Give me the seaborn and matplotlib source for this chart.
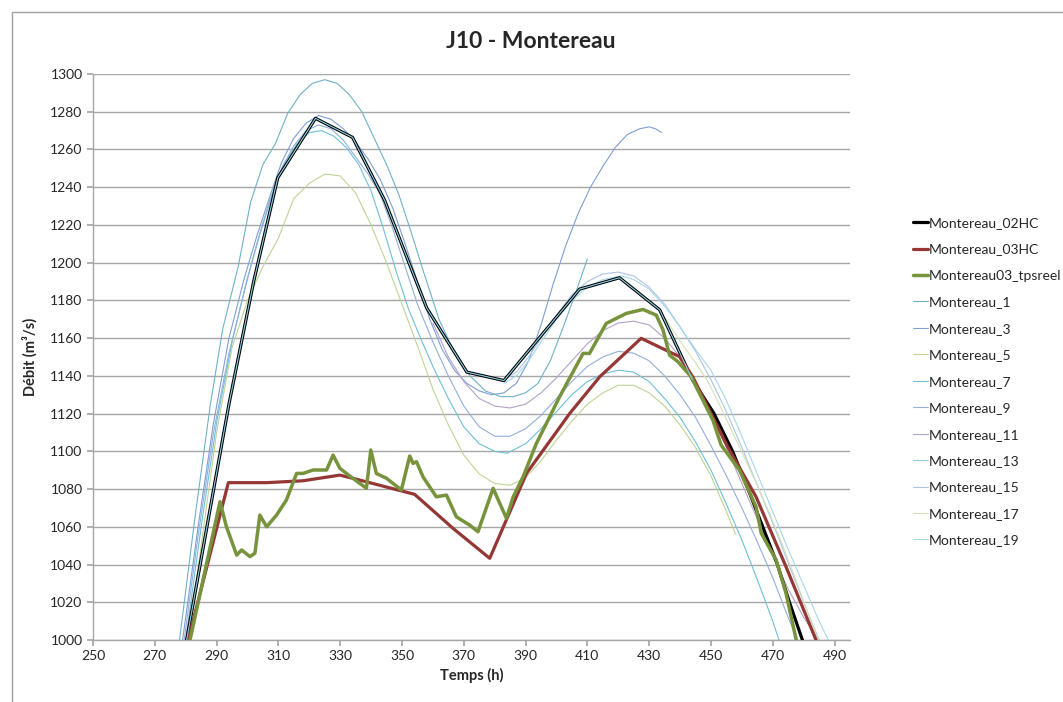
import matplotlib
matplotlib.use("Agg")
import matplotlib.pyplot as plt
from matplotlib.patches import Rectangle
import seaborn as sns
import pandas as pd

# observed / reference series
hc02_t = [280.3, 294, 302, 309.8, 322, 334, 344.4, 352, 358, 371, 383, 407.5, 420.4, 433.4, 444, 451, 457, 462, 467, 471.5, 475.4, 479.6]
hc02_q = [1000, 1125, 1190, 1245, 1276.5, 1266.4, 1233, 1201, 1176, 1142, 1137.5, 1186, 1192, 1175, 1138, 1120, 1100, 1080, 1059, 1040, 1020, 1000]

hc03_t = [280.8, 293.8, 306.2, 318, 329.9, 335.3, 354.1, 366.5, 378.4, 390.3, 404.3, 414, 427.4, 439.8, 444.1, 455.4, 464.6, 474.3, 484]
hc03_q = [1000, 1083.4, 1083.4, 1084.4, 1087.4, 1085.2, 1077.2, 1059.2, 1043.3, 1088.3, 1120.1, 1139.5, 1159.9, 1150.2, 1139.5, 1102.4, 1075.9, 1038.8, 1000]

tps_t = [281.4, 291.1, 293.2, 296.5, 298.1, 300.8, 302.4, 304, 306.2, 309.4, 312.6, 315.9, 318, 321.2, 325.6, 327.7,
         329.9, 332, 338.5, 339.9, 341.7, 345, 349.8, 352.5, 353.6, 354.7, 356.8, 361.1, 364.4, 367.6, 371.9, 374.6,
         379.5, 383.8, 386, 389.2, 393.5, 397.3, 401, 408.6, 410.7, 416.1, 422.6, 428, 432.3, 434.5, 436.6, 439.3,
         443.6, 450.6, 453.3, 459.2, 464.6, 466.3, 471.1, 474.3, 477.6]
tps_q = [1000, 1073.3, 1060, 1045, 1047.7, 1044.2, 1046, 1066.2, 1060, 1066.2, 1074.2, 1088.3, 1088.3, 1090.1, 1090.1, 1098,
         1091, 1088.3, 1080.4, 1100.7, 1088.3, 1085.7, 1079.5, 1097.5, 1093.6, 1094.5, 1086.5, 1075.9, 1076.8, 1065.3, 1060.9, 1057.4,
         1080.4, 1064.5, 1075.9, 1086.5, 1104.2, 1116.6, 1128.9, 1151.9, 1151.9, 1167.8, 1173.1, 1175.2, 1172.2, 1164.3, 1151, 1147.5,
         1139.5, 1116.6, 1103.3, 1090.1, 1070.6, 1056.5, 1042.4, 1024.7, 1000]

# ensemble members
m1_t = [278, 283, 288, 292, 297, 301, 305, 309, 313, 317, 321, 325, 329, 333, 337, 341, 345, 349, 353, 357, 362, 367, 372, 377, 382, 386, 390, 394, 398, 402, 406, 410]
m1_q = [1000, 1065, 1125, 1165, 1198, 1232, 1252, 1263, 1279, 1289, 1295, 1297, 1295, 1289, 1280, 1266, 1252, 1236, 1216, 1195, 1170, 1152, 1140, 1132, 1129, 1129, 1131, 1136, 1148, 1165, 1183, 1202]

m3_t = [279, 284, 289, 294, 299, 303, 307, 311, 315, 319, 323, 327, 331, 335, 339, 343, 347, 351, 355, 359, 363, 367, 371, 375, 379, 383, 387, 391, 395, 399, 403, 407, 411, 415, 419, 423, 427, 430, 432, 434]
m3_q = [1000, 1060, 1115, 1160, 1192, 1214, 1234, 1253, 1266, 1274, 1278, 1276, 1271, 1264, 1255, 1244, 1229, 1210, 1190, 1170, 1154, 1143, 1136, 1132, 1130, 1131, 1136, 1148, 1167, 1189, 1209, 1226, 1240, 1251, 1261, 1268, 1271, 1272, 1271, 1269]

m5_t = [281, 285, 290, 295, 300, 305, 310, 315, 320, 325, 330, 335, 340, 345, 350, 355, 360, 365, 370, 375, 380, 385, 390, 395, 400, 405, 410, 415, 420, 425, 430, 435, 440, 445, 450, 455, 458]
m5_q = [1000, 1050, 1110, 1155, 1180, 1198, 1213, 1234, 1242, 1247, 1246, 1237, 1220, 1200, 1178, 1156, 1133, 1114, 1098, 1088, 1083, 1082, 1086, 1095, 1106, 1116, 1125, 1131, 1135, 1135, 1131, 1124, 1114, 1102, 1087, 1068, 1056]

m7_t = [280, 285, 290, 295, 300, 304, 308, 312, 316, 320, 324, 328, 332, 336, 340, 344, 348, 352, 356, 360, 365, 370, 375, 380, 384, 390, 395, 400, 405, 410, 415, 420, 425, 430, 435, 440, 445, 450, 455, 460, 465, 470, 472]
m7_q = [1000, 1060, 1115, 1158, 1192, 1215, 1236, 1253, 1263, 1269, 1270, 1267, 1261, 1252, 1238, 1218, 1196, 1176, 1160, 1145, 1128, 1113, 1104, 1100, 1099, 1104, 1112, 1121, 1130, 1137, 1141, 1143, 1142, 1137, 1128, 1118, 1105, 1090, 1072, 1053, 1032, 1010, 1000]

m9_t = [279.5, 284, 289, 294, 299, 303, 307, 311, 315, 319, 323, 327, 331, 335, 339, 343, 347, 351, 355, 360, 365, 370, 375, 380, 385, 390, 395, 400, 405, 410, 415, 420, 425, 430, 435, 440, 445, 450, 455, 460, 465, 470, 475, 478]
m9_q = [1000, 1055, 1110, 1152, 1185, 1210, 1232, 1250, 1262, 1270, 1273, 1271, 1265, 1256, 1247, 1236, 1218, 1198, 1178, 1158, 1140, 1124, 1113, 1108, 1108, 1112, 1119, 1128, 1137, 1145, 1150, 1153, 1152, 1148, 1140, 1130, 1118, 1103, 1087, 1070, 1052, 1033, 1012, 1000]

m11_t = [360, 365, 370, 375, 380, 385, 390, 395, 400, 405, 410, 415, 420, 425, 430, 435, 440, 445, 450, 455, 460, 465, 470, 475, 480, 485]
m11_q = [1168, 1150, 1137, 1128, 1124, 1123, 1125, 1131, 1139, 1148, 1157, 1164, 1168, 1169, 1167, 1160, 1150, 1136, 1120, 1102, 1083, 1064, 1045, 1027, 1012, 1000]

m13_t = [280.3, 294, 302, 309.8, 322, 334, 344.4, 352, 358, 371, 383, 407.5, 420.4, 433.4, 444]
m13_q = [1000, 1125, 1190, 1245, 1276.5, 1266.4, 1233, 1201, 1176, 1142, 1137.5, 1186, 1192, 1175, 1138]

m15_t = [383, 387, 391, 395, 400, 405, 410, 415, 420, 425, 430, 435, 440, 445, 450, 455, 460, 465, 470, 475, 480, 485]
m15_q = [1138, 1142, 1150, 1160, 1172, 1183, 1190, 1194, 1195, 1193, 1187, 1178, 1166, 1153, 1138, 1121, 1102, 1082, 1062, 1041, 1020, 1000]

m17_t = [433.4, 437, 441, 445, 449, 453, 457, 461, 465, 469, 473, 477, 481, 484, 485]
m17_q = [1175, 1166, 1156, 1147, 1137, 1124, 1110, 1096, 1082, 1067, 1051, 1034, 1016, 1003, 1000]

m19_t = [383, 387, 391, 395, 400, 405, 410, 415, 421, 425, 430, 435, 440, 445, 450, 455, 460, 465, 470, 475, 480, 485, 488]
m19_q = [1136, 1140, 1148, 1158, 1170, 1180, 1187, 1191, 1193, 1191, 1186, 1177, 1166, 1154, 1143, 1127, 1108, 1088, 1068, 1048, 1029, 1010, 1000]

series = [
    ("Montereau_02HC", hc02_t, hc02_q, "#000000", 2.3),
    ("Montereau_03HC", hc03_t, hc03_q, "#953735", 2.3),
    ("Montereau03_tpsreel", tps_t, tps_q, "#77933c", 2.5),
    ("Montereau_1", m1_t, m1_q, "#6fb1c8", 0.8),
    ("Montereau_3", m3_t, m3_q, "#7f9fd3", 0.8),
    ("Montereau_5", m5_t, m5_q, "#bfd494", 0.8),
    ("Montereau_7", m7_t, m7_q, "#6fc0d6", 0.8),
    ("Montereau_9", m9_t, m9_q, "#93afda", 0.8),
    ("Montereau_11", m11_t, m11_q, "#b3a2c7", 0.8),
    ("Montereau_13", m13_t, m13_q, "#8dcde0", 0.8),
    ("Montereau_15", m15_t, m15_q, "#adc2e6", 0.8),
    ("Montereau_17", m17_t, m17_q, "#d3e2b6", 0.8),
    ("Montereau_19", m19_t, m19_q, "#a6d8e8", 0.8),
]

sns.set_theme(style="white")
plt.rcParams['font.family'] = ['Lato', 'DejaVu Sans']

fig = plt.figure(figsize=(10.63, 7.02), dpi=100)
ax = fig.add_axes([93/1063, 1 - 640/702, (850 - 93)/1063, (640 - 74)/702])

for name, t, q, col, lw in series:
    df = pd.DataFrame({"t": t, "q": q})
    z = 2
    if name == "Montereau_13":
        z = 4  # drawn inside the black line
    elif lw > 1:
        z = 3
    sns.lineplot(data=df, x="t", y="q", ax=ax, color=col, linewidth=lw, label=name,
                 estimator=None, sort=False, zorder=z)

ax.set_xlim(250, 495)
ax.set_ylim(1000, 1300)
ax.set_xticks(range(250, 491, 20))
ax.set_yticks(range(1000, 1301, 20))
ax.yaxis.grid(True, color="#a6a6a6", linewidth=1.0)
ax.xaxis.grid(False)
for s in ["top", "right"]:
    ax.spines[s].set_visible(False)
for s in ["left", "bottom"]:
    ax.spines[s].set_color("#a6a6a6")
    ax.spines[s].set_linewidth(1.0)
ax.tick_params(axis="both", which="major", length=4, color="#a6a6a6", labelsize=10, direction="out")
ax.tick_params(axis="x", bottom=True)
ax.tick_params(axis="y", left=True)

ax.set_xlabel("Temps (h)", fontsize=10.5, fontweight="bold", labelpad=4)
ax.set_ylabel("Débit (m³/s)", fontsize=10.5, fontweight="bold", labelpad=9)
fig.text(531/1063, 1 - 42/702, "J10 - Montereau", ha="center", va="center", fontsize=16.5, fontweight="bold")

leg = ax.legend(loc="upper left", bbox_to_anchor=(913/1063, 1 - 217/702), bbox_transform=fig.transFigure,
                frameon=False, fontsize=10, handlelength=1.05, handletextpad=0.12, labelspacing=1.04,
                borderaxespad=0, borderpad=0)

# chart area border
fig.patches.append(Rectangle((12/1063, -0.05), 1.1, 1 - 12/702 + 0.05, transform=fig.transFigure,
                             fill=False, edgecolor="#a0a0a0", linewidth=1.0))

fig.savefig("out.png", dpi=100)
